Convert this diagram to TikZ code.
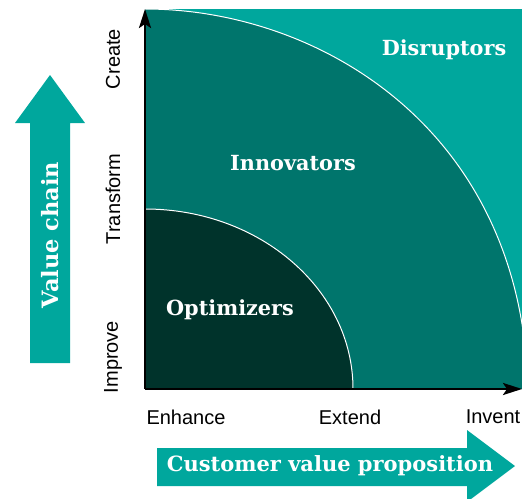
\documentclass[tikz,border=0pt]{standalone}
\usepackage{fontspec}
\setmainfont{Liberation Sans}
\newfontfamily\slabfont{DejaVu Serif}
\usetikzlibrary{arrows.meta}
\definecolor{disrupt}{HTML}{00A79D}
\definecolor{innov}{HTML}{00756C}
\definecolor{optim}{HTML}{00332B}
\tikzset{
  axisline/.style={line width=2.6pt, -{Stealth[length=19pt,width=12pt,inset=4pt]}},
  arcline/.style={draw=white, line width=1pt},
  zonetext/.style={text=white, font=\slabfont\bfseries\fontsize{20.8}{24}\selectfont, inner sep=0pt},
  ticktext/.style={text=black, font=\fontsize{20}{24}\selectfont, inner sep=0pt},
  bigarrow/.style={fill=disrupt, draw=none},
  arrowtext/.style={text=white, font=\slabfont\bfseries\fontsize{21}{24}\selectfont, inner sep=0pt}
}
\begin{document}
\begin{tikzpicture}[x=1pt,y=-1pt]
\useasboundingbox (0,0) rectangle (522,498);
\coordinate (O) at (145,389);
\coordinate (ytop) at (145,9);
\coordinate (xend) at (522,389);
% quadrant background
\fill[disrupt] (145,9) rectangle (522,389);
\begin{scope}
  \clip (145,9) rectangle (522,389);
  \fill[innov] (O) -- (145,9) .. controls (320,9) and (522,130) .. (528,389) -- cycle;
  \draw[arcline] (145,9) .. controls (320,9) and (522,130) .. (528,389);
  \fill[optim] (O) ellipse [x radius=208, y radius=180];
  \draw[arcline] (O) ellipse [x radius=208, y radius=180];
\end{scope}
% axes
\draw[axisline] (O) -- (ytop);
\draw[axisline] (O) -- (xend);
% zone labels
\node[zonetext] (disr) at (444,50) {Disruptors};
\node[zonetext] (innt) at (293,163) {Innovators};
\node[zonetext] (optt) at (230,310) {Optimizers};
% axis tick labels
\node[ticktext, rotate=90] (create) at (113,59) {Create};
\node[ticktext, rotate=90] (transf) at (113,199) {Transform};
\node[ticktext, rotate=90] (improve) at (113,357) {Improve};
\node[ticktext] (enh) at (186,417) {Enhance};
\node[ticktext] (ext) at (350,417) {Extend};
\node[ticktext] (inv) at (493,417) {Invent};
% big arrows
\fill[bigarrow] (30,363) -- (30,123) -- (15,123) -- (50,75) -- (85,123) -- (70,123) -- (70,363) -- cycle;
\node[arrowtext, rotate=90, font=\slabfont\bfseries\fontsize{22.5}{26}\selectfont] (vc) at (50,235) {Value chain};
\fill[bigarrow] (157,448) -- (467,448) -- (467,430) -- (515,466) -- (467,502) -- (467,486) -- (157,486) -- cycle;
\node[arrowtext] (cvp) at (330,466) {Customer value proposition};
\end{tikzpicture}
\end{document}
